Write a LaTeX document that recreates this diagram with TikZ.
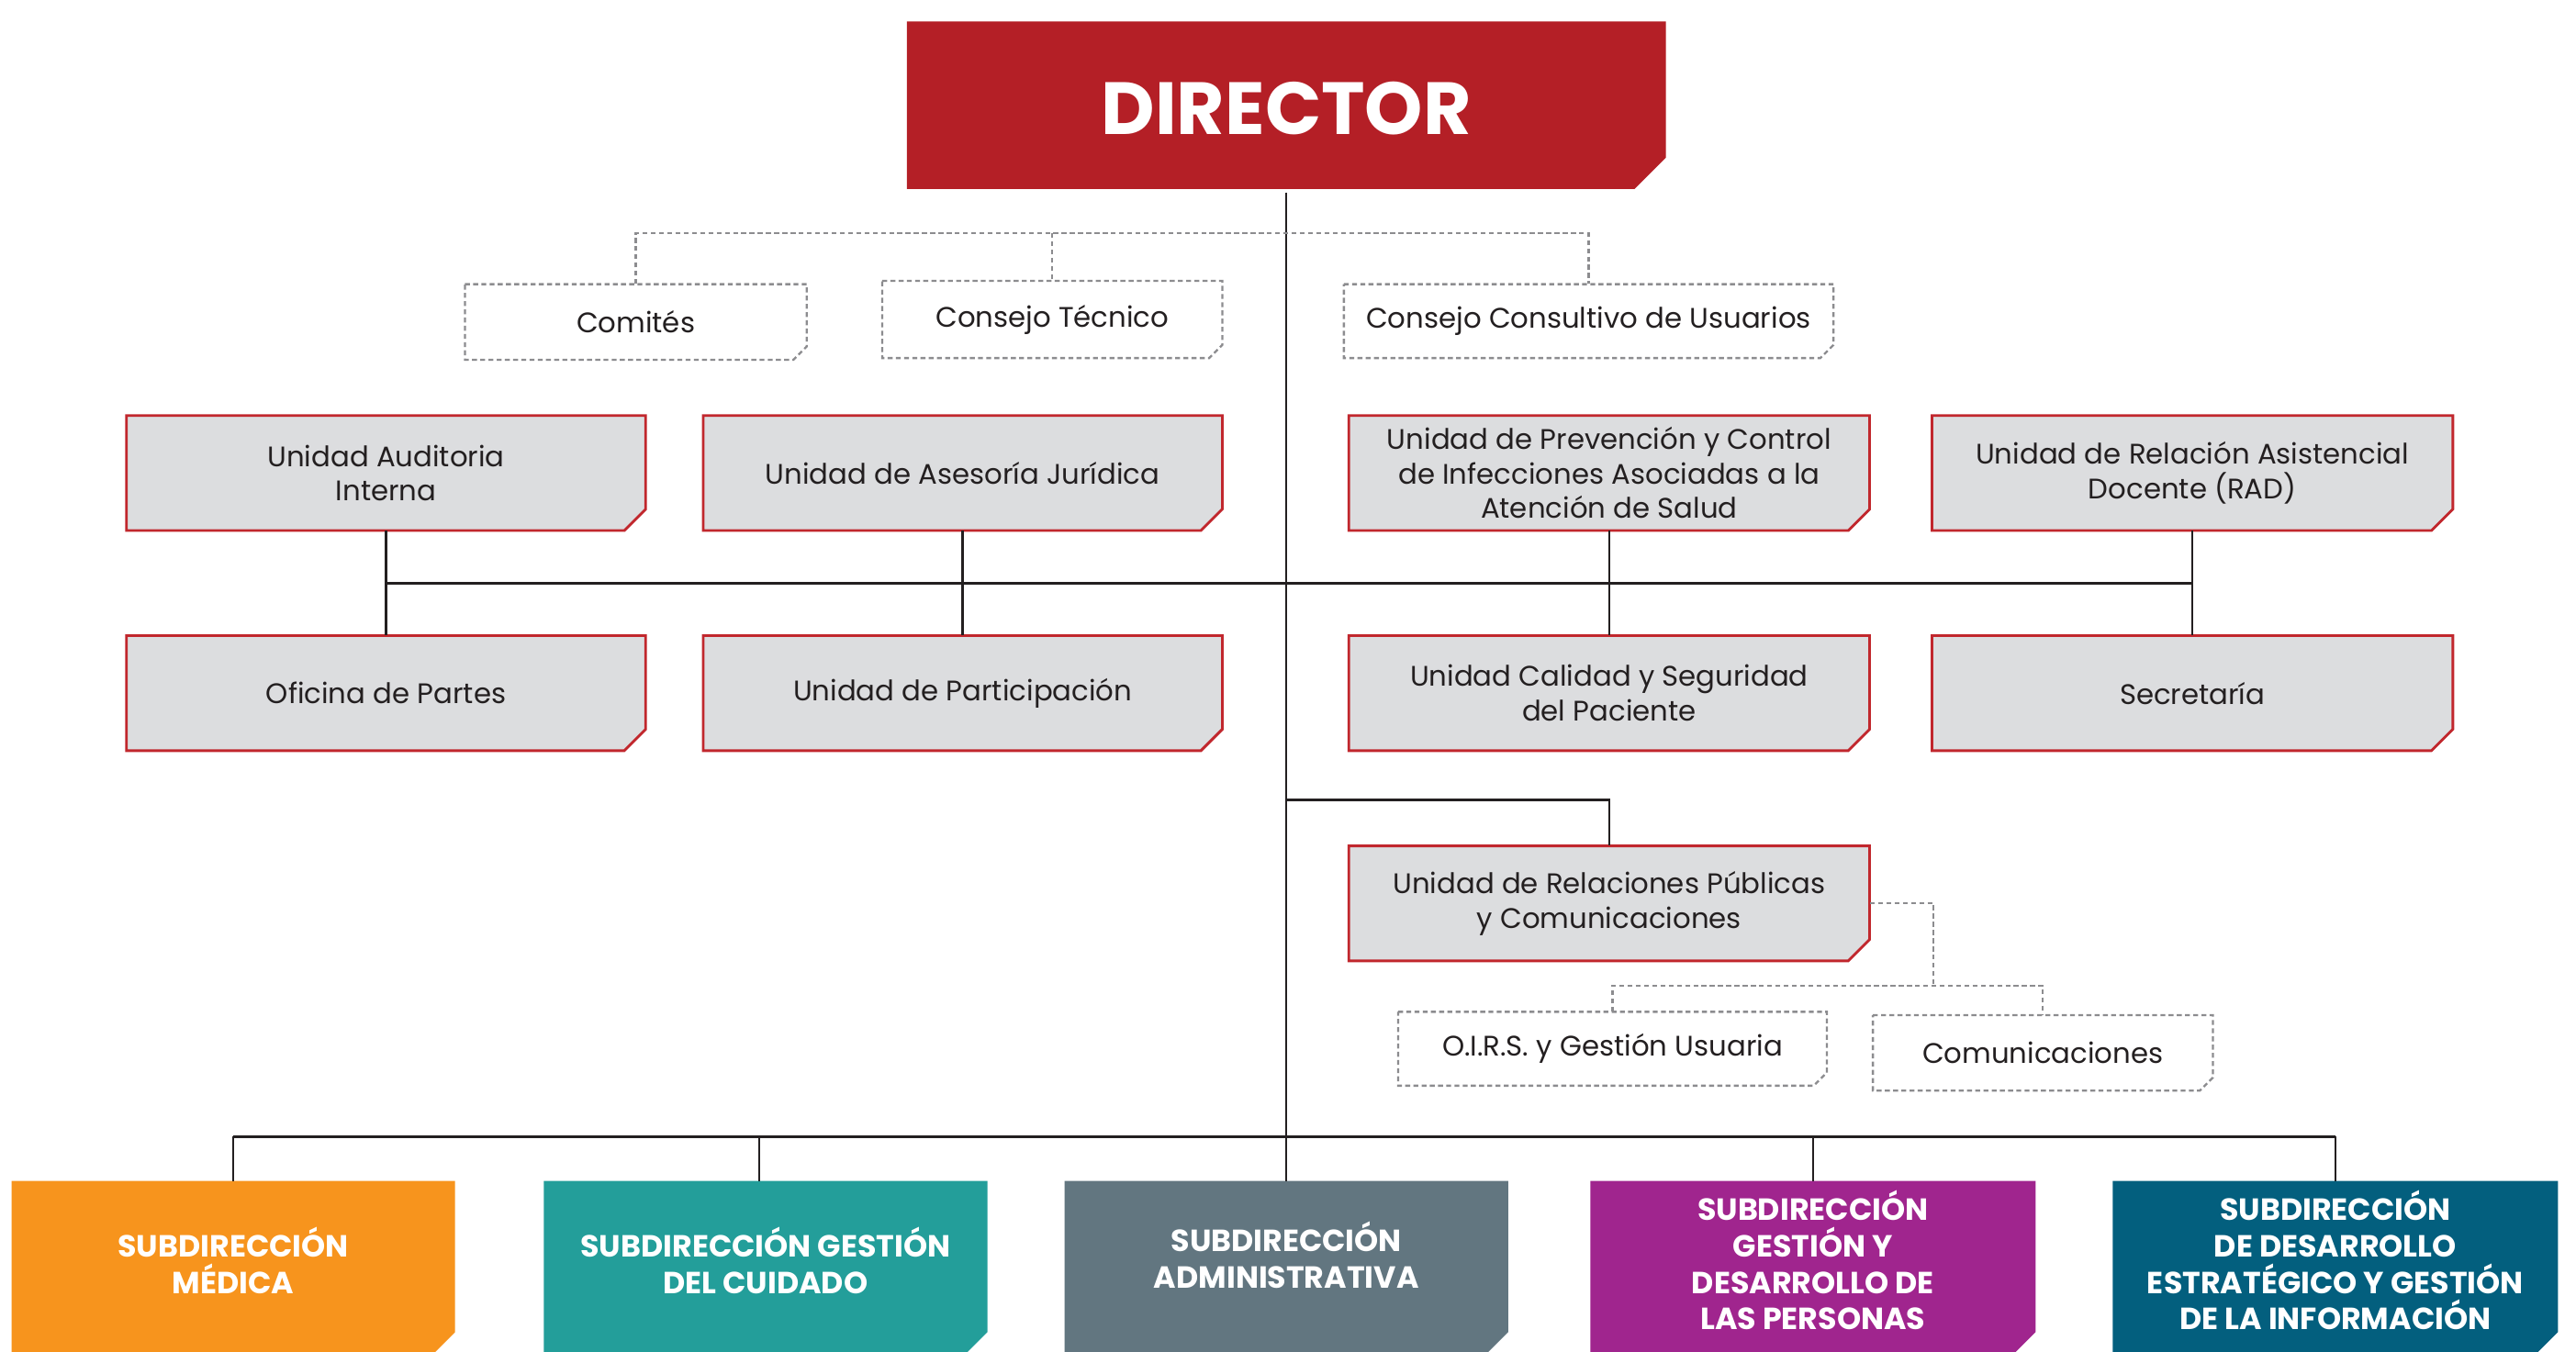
\documentclass[tikz,border=0pt]{standalone}
\usepackage{fontspec}
\setmainfont{Poppins}
\usetikzlibrary{calc}
\definecolor{dirred}{HTML}{B41F26}
\definecolor{boxred}{HTML}{C1272D}
\definecolor{boxgray}{HTML}{DCDDDF}
\definecolor{ink}{HTML}{231F20}
\definecolor{dashgray}{HTML}{8C8C8F}
\definecolor{cOrange}{HTML}{F7941D}
\definecolor{cTeal}{HTML}{239E9A}
\definecolor{cSlate}{HTML}{627680}
\definecolor{cMagenta}{HTML}{A0258E}
\definecolor{cPetrol}{HTML}{035F7E}
\tikzset{
  redbox/.style={fill=boxgray, draw=boxred, line width=1.6pt},
  dashbox/.style={draw=dashgray, line width=1.3pt, dash pattern=on 3pt off 2pt},
  dashline/.style={draw=dashgray, line width=1.3pt, dash pattern=on 3pt off 2pt},
  solidline/.style={draw=ink, line width=1.4pt},
  boxtext/.style={inner sep=0pt, align=center, text=ink, font=\fontsize{17.2}{21}\selectfont},
  subtext/.style={inner sep=0pt, align=center, text=white, font=\fontsize{18.6}{22.3}\selectfont\bfseries},
}
% name, x1, y1, x2, y2, cut, path style, text
\newcommand\cbox[8]{%
  \path[#7] (#2,#3) -- (#4,#3) -- (#4,#5-#6) -- (#4-#6,#5) -- (#2,#5) -- cycle;
  \node[boxtext, minimum width={#4-#2}, minimum height={#5-#3}] (#1) at ({(#2+#4)/2},{(#3+#5)/2}) {#8};}
% bottom boxes: name, x1, x2, colour, text-box height, text
\newcommand\subbox[6]{%
  \path[fill=#4] (#2,719) -- (#3,719) -- (#3,811) -- (#3-20,831) -- (#2,831) -- cycle;
  \node[subtext, minimum width={#3-#2}, minimum height=#5, anchor=north] (#1) at ({(#2+#3)/2},719) {#6};}
\begin{document}
\begin{tikzpicture}[x=1pt,y=-1pt]
\clip (0,0) rectangle (1568,822.6);
\fill[white] (0,0) rectangle (1568,822.6);
% Director
\path[fill=dirred] (552,13) -- (1014,13) -- (1014,96) -- (995,115) -- (552,115) -- cycle;
\node[inner sep=0pt, minimum width=462, minimum height=102, text=white, font=\fontsize{45}{48}\selectfont\bfseries] (dir) at (783,66) {DIRECTOR};
% dashed advisory boxes
\cbox{com}{283}{173}{491}{219}{8}{dashbox}{Comités}
\cbox{ct}{537}{171}{744}{218}{8}{dashbox}{Consejo Técnico}
\cbox{ccu}{818}{173}{1116}{218}{8}{dashbox}{Consejo Consultivo de Usuarios}
% red row 1
\cbox{uai}{77}{253}{393}{323}{13}{redbox}{Unidad Auditoria\\Interna}
\cbox{uaj}{428}{253}{744}{323}{13}{redbox}{Unidad de Asesoría Jurídica}
\cbox{upc}{821}{253}{1138}{323}{13}{redbox}{Unidad de Prevención y Control\\de Infecciones Asociadas a la\\Atención de Salud}
\cbox{rad}{1176}{253}{1493}{323}{13}{redbox}{Unidad de Relación Asistencial\\Docente (RAD)}
% red row 2
\cbox{ofp}{77}{387}{393}{457}{13}{redbox}{Oficina de Partes}
\cbox{upa}{428}{387}{744}{457}{13}{redbox}{Unidad de Participación}
\cbox{ucs}{821}{387}{1138}{457}{13}{redbox}{Unidad Calidad y Seguridad\\del Paciente}
\cbox{sec}{1176}{387}{1493}{457}{13}{redbox}{Secretaría}
% public relations
\cbox{rrpp}{821}{515}{1138}{585}{13}{redbox}{Unidad de Relaciones Públicas\\y Comunicaciones}
\cbox{oirs}{851}{616}{1112}{661}{8}{dashbox}{O.I.R.S. y Gestión Usuaria}
\cbox{comu}{1140}{618}{1347}{664}{8}{dashbox}{Comunicaciones}
% sub-directions
\subbox{s1}{7}{277}{cOrange}{96}{SUBDIRECCIÓN\\MÉDICA}
\subbox{s2}{331}{601}{cTeal}{96}{SUBDIRECCIÓN GESTIÓN\\DEL CUIDADO}
\subbox{s3}{648}{918}{cSlate}{90}{SUBDIRECCIÓN\\ADMINISTRATIVA}
\subbox{s4}{968}{1239}{cMagenta}{96}{SUBDIRECCIÓN\\GESTIÓN Y\\DESARROLLO DE\\LAS PERSONAS}
\subbox{s5}{1286}{1557}{cPetrol}{96}{SUBDIRECCIÓN\\DE DESARROLLO\\ESTRATÉGICO Y GESTIÓN\\DE LA INFORMACIÓN}
% coordinates for bus levels
\coordinate (dl) at (0,142);
\coordinate (hl) at (0,355);
\coordinate (rl) at (0,487);
\coordinate (pl) at (0,600);
\coordinate (bl) at (0,692);
\coordinate (px) at (1177,0);
% trunk
\draw[solidline] (dir.south) -- (s3.north);
% dashed advisory connectors
\draw[dashline] (com.north) -- (com.north |- dl) -- (ccu.north |- dl) -- (ccu.north);
\draw[dashline] (ct.north |- dl) -- (ct.north);
% unit connectors
\draw[solidline] (uai.south |- hl) -- (rad.south |- hl);
\draw[solidline] (uai.south) -- (ofp.north);
\draw[solidline] (uaj.south) -- (upa.north);
\draw[solidline] (upc.south) -- (ucs.north);
\draw[solidline] (rad.south) -- (sec.north);
\draw[solidline] (dir.south |- rl) -| (rrpp.north);
% public relations dashed connectors
\draw[dashline] (rrpp.east) -- (px |- rrpp.east) -- (px |- pl);
\draw[dashline] (oirs.north) -- (oirs.north |- pl) -- (comu.north |- pl) -- (comu.north);
% bottom bus
\draw[solidline] (s1.north |- bl) -- (s5.north |- bl);
\draw[solidline] (s1.north |- bl) -- (s1.north);
\draw[solidline] ([xshift=-4pt]s2.north |- bl) -- ([xshift=-4pt]s2.north);
\draw[solidline] (s4.north |- bl) -- (s4.north);
\draw[solidline] (s5.north |- bl) -- (s5.north);
\end{tikzpicture}
\end{document}
